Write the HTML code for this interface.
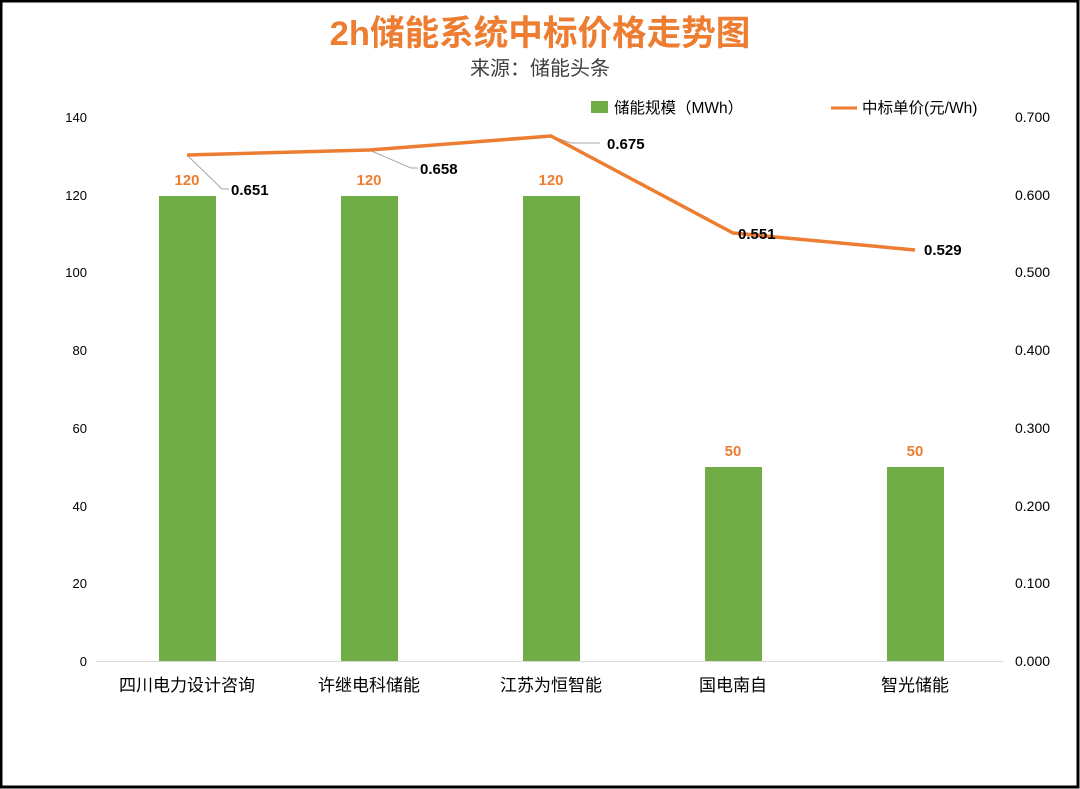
<!DOCTYPE html>
<html><head><meta charset="utf-8"><style>
html,body{margin:0;padding:0;background:#fff}
svg{display:block}
text{font-family:"Liberation Sans","Noto Sans CJK SC",sans-serif}
</style></head><body>
<svg width="1080" height="789" viewBox="0 0 1080 789" xmlns="http://www.w3.org/2000/svg">
<rect x="0" y="0" width="1080" height="789" fill="#fff"/>
<rect x="1" y="1" width="1077" height="786" fill="none" stroke="#000" stroke-width="3"/>
<text x="540" y="45" text-anchor="middle" font-size="34.6" font-weight="bold" fill="#ED7D31">2h储能系统中标价格走势图</text>
<text x="540" y="75" text-anchor="middle" font-size="20" fill="#404040">来源：储能头条</text>
<!-- legend -->
<rect x="591" y="101" width="17" height="12" fill="#70AD47"/>
<text x="614" y="113" font-size="15.5" fill="#000">储能规模（MWh）</text>
<line x1="831" y1="108" x2="857" y2="108" stroke="#ED7D31" stroke-width="3"/>
<text x="862" y="113" font-size="15.5" fill="#000">中标单价(元/Wh)</text>
<!-- left axis -->
<g font-size="13" fill="#000" text-anchor="end">
<text x="87" y="666">0</text><text x="87" y="588">20</text><text x="87" y="511">40</text>
<text x="87" y="433">60</text><text x="87" y="355">80</text><text x="87" y="277">100</text>
<text x="87" y="200">120</text><text x="87" y="122">140</text>
</g>
<g font-size="14" fill="#000">
<text x="1015" y="666">0.000</text><text x="1015" y="588">0.100</text><text x="1015" y="511">0.200</text>
<text x="1015" y="433">0.300</text><text x="1015" y="355">0.400</text><text x="1015" y="277">0.500</text>
<text x="1015" y="200">0.600</text><text x="1015" y="122">0.700</text>
</g>
<line x1="96" y1="661.5" x2="1003" y2="661.5" stroke="#d9d9d9" stroke-width="1"/>
<!-- bars -->
<g fill="#70AD47">
<rect x="159" y="196" width="57" height="465"/>
<rect x="341" y="196" width="57" height="465"/>
<rect x="523" y="196" width="57" height="465"/>
<rect x="705" y="467" width="57" height="194"/>
<rect x="887" y="467" width="57" height="194"/>
</g>
<g font-size="15" font-weight="bold" fill="#ED7D31" text-anchor="middle">
<text x="187" y="185">120</text><text x="369" y="185">120</text><text x="551" y="185">120</text>
<text x="733" y="456">50</text><text x="915" y="456">50</text>
</g>
<!-- x labels -->
<g font-size="17" fill="#000" text-anchor="middle">
<text x="187" y="691">四川电力设计咨询</text><text x="369" y="691">许继电科储能</text>
<text x="551" y="691">江苏为恒智能</text><text x="733" y="691">国电南自</text><text x="915" y="691">智光储能</text>
</g>
<!-- leader lines -->
<g stroke="#a6a6a6" stroke-width="1" fill="none">
<polyline points="187,155 222,189 229,189"/>
<polyline points="369,150 411,168 418,168"/>
<polyline points="551,136 571,143 600,143"/>
</g>
<polyline points="187,155 369,150 551,136 733,233 915,250" fill="none" stroke="#ED7D31" stroke-width="3.5" stroke-linejoin="round"/>
<g font-size="15" font-weight="bold" fill="#000">
<text x="231" y="195">0.651</text><text x="420" y="174">0.658</text><text x="607" y="149">0.675</text>
<text x="738" y="239">0.551</text><text x="924" y="255">0.529</text>
</g>
</svg>
</body></html>
